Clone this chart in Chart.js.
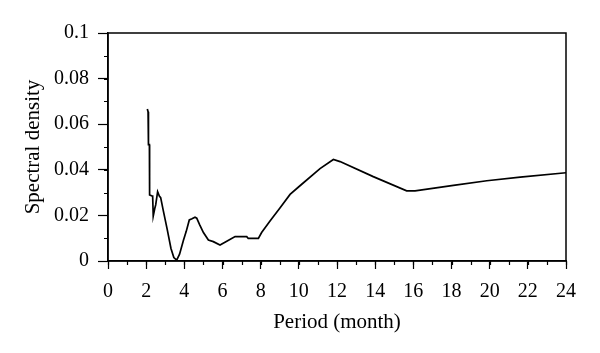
<!DOCTYPE html>
<html>
<head>
<meta charset="utf-8">
<script src="https://cdn.jsdelivr.net/npm/chart.js@4/dist/chart.umd.min.js"></script>
<style>
    html, body { margin: 0; padding: 0; background: #fff; }
    #wrap { width: 600px; height: 353px; }
</style>
</head>
<body>
<div id="wrap"><canvas id="spectrumChart" width="600" height="353"></canvas></div>
<script>
// ---- Data ----

const periods = [2.06, 2.1, 2.12, 2.12, 2.17, 2.18, 2.3, 2.34, 2.37, 2.45, 2.5, 2.6, 2.69, 2.76,
    2.9, 3.1, 3.3, 3.45, 3.6, 3.75, 3.95, 4.1, 4.26, 4.4, 4.56, 4.65, 4.8, 5.0, 5.26, 5.52, 5.87,
    6.2, 6.66, 7.27, 7.35, 7.88, 8.05, 8.49, 9.01, 9.54, 10.06, 11.11, 11.81, 12.16, 13.9, 15.65,
    16.09, 18.1, 19.85, 21.6, 24];
const density = [0.0667, 0.0655, 0.065, 0.051, 0.051, 0.029, 0.0285, 0.0285, 0.0197, 0.023, 0.0246, 0.0304, 0.0285, 0.0278,
    0.022, 0.014, 0.0055, 0.0015, 0.0004, 0.003, 0.009, 0.013, 0.018, 0.0185, 0.0192, 0.0188, 0.016, 0.0125, 0.0092, 0.0085, 0.007,
    0.0085, 0.0107, 0.0107, 0.0099, 0.0099, 0.0125, 0.0175, 0.0232, 0.0292, 0.0330, 0.0405, 0.0445, 0.0436, 0.037, 0.0308,
    0.0308, 0.0332, 0.0352, 0.0368, 0.0387];

const yTickLabels = ['0', '0.02', '0.04', '0.06', '0.08', '0.1'];
const xMinorStep = 1;
const yMinorStep = 0.01;

const serif = '"Liberation Serif", "DejaVu Serif", serif';

// ---- Frame + minor ticks ----

const framePlugin = {
    id: 'frame',
    afterDraw(chart) {
        const { ctx, chartArea: a, scales: { x, y } } = chart;
        ctx.save();
        ctx.strokeStyle = '#000';
        ctx.lineWidth = 1.5;
        ctx.strokeRect(a.left, a.top, a.right - a.left, a.bottom - a.top);

        ctx.lineWidth = 1.2;
        ctx.beginPath();
        for (let v = x.min; v <= x.max + 1e-9; v += xMinorStep) {
            const px = Math.round(x.getPixelForValue(v)) + 0.5;
            ctx.moveTo(px, a.bottom);
            ctx.lineTo(px, a.bottom + 4);
        }
        for (let v = y.min; v <= y.max + 1e-9; v += yMinorStep) {
            const py = Math.round(y.getPixelForValue(v)) + 0.5;
            ctx.moveTo(a.left, py);
            ctx.lineTo(a.left - 4, py);
        }
        ctx.stroke();
        ctx.restore();
    }
};

// ---- Chart ----

new Chart(document.getElementById('spectrumChart'), {
    type: 'line',
    data: {
        datasets: [{
            data: periods.map((p, i) => ({ x: p, y: density[i] })),
            borderColor: '#000',
            borderWidth: 1.7,
            pointRadius: 0,
            tension: 0,
            fill: false
        }]
    },
    options: {
        responsive: false,
        animation: false,
        layout: { padding: { left: 0, right: 34, top: 33, bottom: 0 } },
        plugins: { legend: { display: false }, tooltip: { enabled: false } },
        scales: {
            x: {
                type: 'linear',
                min: 0,
                max: 24,
                afterFit: s => { s.height = 92; },
                ticks: { stepSize: 2, color: '#000', padding: 11, maxRotation: 0, font: { family: serif, size: 20 } },
                grid: { drawOnChartArea: false, drawTicks: true, tickLength: 8, tickColor: '#000', tickWidth: 1.2 },
                border: { display: true, color: '#000', width: 1.5 },
                title: { display: true, text: 'Period (month)', color: '#000', font: { family: serif, size: 21 }, padding: { top: 0, bottom: 18 } }
            },
            y: {
                min: 0,
                max: 0.1,
                afterFit: s => { s.width = 108; },
                ticks: {
                    stepSize: 0.02,
                    color: '#000',
                    padding: 9,
                    font: { family: serif, size: 20 },
                    callback: (v, i) => yTickLabels[i]
                },
                grid: { drawOnChartArea: false, drawTicks: true, tickLength: 10, tickColor: '#000', tickWidth: 1.2 },
                border: { display: true, color: '#000', width: 1.5 },
                title: { display: true, text: 'Spectral density', color: '#000', font: { family: serif, size: 21 }, padding: { top: 21, bottom: 0 } }
            }
        }
    },
    plugins: [framePlugin]
});
</script>
</body>
</html>
